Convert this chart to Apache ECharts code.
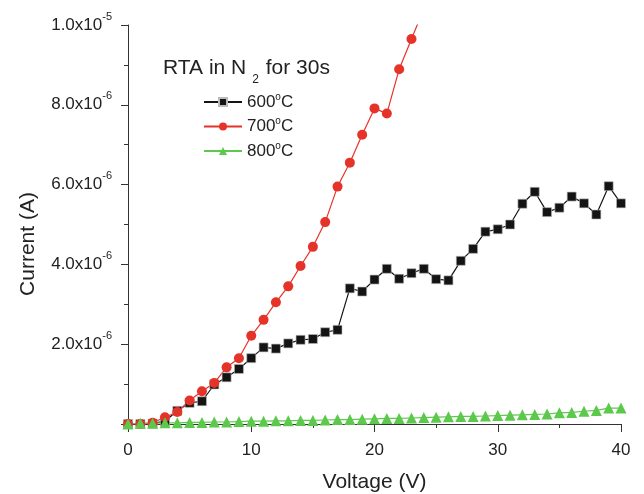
<!DOCTYPE html>
<html>
<head>
<meta charset="utf-8">
<script src="https://cdn.jsdelivr.net/npm/echarts@6/dist/echarts.min.js"></script>
<style>
  html, body { margin: 0; padding: 0; background: #fff; }
  #chart { width: 644px; height: 494px; }
</style>
</head>
<body>
<div id="chart"></div>
<script>
// Bias voltage steps (V)
const voltage = [0, 1, 2, 3, 4, 5, 6, 7, 8, 9, 10, 11, 12, 13, 14, 15, 16, 17, 18, 19, 20,
                 21, 22, 23, 24, 25, 26, 27, 28, 29, 30, 31, 32, 33, 34, 35, 36, 37, 38, 39, 40];

// Measured current, in microamps, for each anneal temperature
const current600 = [0.00, 0.00, 0.01, 0.07, 0.33, 0.53, 0.57, 0.99, 1.17, 1.38, 1.65,
                    1.92, 1.89, 2.02, 2.11, 2.13, 2.30, 2.36, 3.40, 3.32, 3.62,
                    3.89, 3.64, 3.78, 3.89, 3.63, 3.60, 4.09, 4.39, 4.82, 4.88,
                    5.00, 5.52, 5.82, 5.31, 5.42, 5.70, 5.53, 5.25, 5.96, 5.53];
const current700 = [0.00, 0.00, 0.03, 0.17, 0.30, 0.59, 0.82, 1.03, 1.42, 1.65, 2.21,
                    2.61, 3.05, 3.45, 3.96, 4.44, 5.06, 5.95, 6.55, 7.25, 7.91,
                    7.78, 8.89, 9.65, 10.40];
const current800 = [0.00, 0.02, 0.02, 0.03, 0.03, 0.04, 0.04, 0.05, 0.05, 0.06, 0.07,
                    0.07, 0.08, 0.08, 0.09, 0.09, 0.10, 0.11, 0.11, 0.12, 0.13,
                    0.14, 0.14, 0.15, 0.16, 0.17, 0.18, 0.19, 0.19, 0.20, 0.21,
                    0.22, 0.23, 0.24, 0.25, 0.28, 0.29, 0.32, 0.34, 0.40, 0.40];

const temperatures = ['600', '700', '800'];
const legendTitle = 'RTA in N';
const legendTitleSub = '2';
const legendTitleTail = ' for 30s';
const xTitle = 'Voltage (V)';
const yTitle = 'Current (A)';

const MICRO = 1e-6;
const FONT = "'Liberation Sans', Arial, Helvetica, sans-serif";
const TEXT = '#222';

function pairs(values) {
  return values.map((v, i) => [voltage[i], v * MICRO]);
}

// "2.0x10^-6" style tick labels
function sciLabel(v) {
  if (v <= 0) return '';
  const exp = Math.floor(Math.log10(v) + 1e-9);
  const mant = (v / Math.pow(10, exp)).toFixed(1);
  return '{m|' + mant + 'x10}{e|' + exp + '}';
}

const chart = echarts.init(document.getElementById('chart'), null, { renderer: 'canvas' });

const seriesStyle = [
  { symbol: 'rect', size: 9, color: '#141414', border: '#bbbbbb' },
  { symbol: 'circle', size: 10, color: '#e5332a', border: null },
  { symbol: 'triangle', size: 11, color: '#5cc84c', border: null }
];
const seriesData = [current600, current700, current800];

const option = {
  animation: false,
  backgroundColor: '#fff',
  textStyle: { fontFamily: FONT, color: TEXT },
  grid: { left: 128, right: 23, top: 25, bottom: 70, containLabel: false, outerBoundsMode: 'none' },
  xAxis: {
    type: 'value',
    min: 0, max: 40, interval: 10,
    name: xTitle,
    nameLocation: 'middle',
    nameGap: 48,
    nameTextStyle: { fontFamily: FONT, fontSize: 21, color: TEXT },
    axisLine: { show: true, onZero: false, lineStyle: { color: '#333', width: 1 } },
    axisTick: { show: true, inside: false, length: 8, lineStyle: { color: '#333' } },
    minorTick: { show: true, splitNumber: 2, length: 4, lineStyle: { color: '#333' } },
    axisLabel: { margin: 18, fontFamily: FONT, fontSize: 17, color: TEXT },
    splitLine: { show: false }
  },
  yAxis: {
    type: 'value',
    min: 0, max: 1e-5, interval: 2e-6,
    axisLine: { show: true, onZero: false, lineStyle: { color: '#333', width: 1 } },
    axisTick: { show: true, inside: false, length: 7, lineStyle: { color: '#333' } },
    minorTick: { show: true, splitNumber: 2, length: 4, lineStyle: { color: '#333' } },
    axisLabel: {
      margin: 16,
      formatter: sciLabel,
      rich: {
        m: { fontFamily: FONT, fontSize: 17, color: TEXT, lineHeight: 28, verticalAlign: 'middle' },
        e: { fontFamily: FONT, fontSize: 11, color: TEXT, lineHeight: 12, verticalAlign: 'top' }
      }
    },
    splitLine: { show: false }
  },
  legend: {
    orient: 'vertical',
    left: 203,
    top: 92,
    padding: 0,
    itemWidth: 38,
    itemHeight: 10,
    itemGap: 6,
    data: temperatures.map(t => t + '°C'),
    formatter: name => '{a|' + name.replace('°C', '') + '}{s|o}{a|C}',
    textStyle: {
      rich: {
        a: { fontFamily: FONT, fontSize: 17, color: TEXT, lineHeight: 20, verticalAlign: 'middle' },
        s: { fontFamily: FONT, fontSize: 10, color: TEXT, lineHeight: 10, verticalAlign: 'top' }
      }
    }
  },
  graphic: [
    {
      type: 'text',
      left: 163,
      top: 58,
      style: {
        text: '{a|' + legendTitle + '}{b|' + legendTitleSub + '}{a|' + legendTitleTail + '}',
        rich: {
          a: { fontFamily: FONT, fontSize: 21, fill: TEXT, lineHeight: 34, verticalAlign: 'middle' },
          b: { fontFamily: FONT, fontSize: 12, fill: TEXT, lineHeight: 12, verticalAlign: 'bottom', padding: [0, 1, 0, 6] }
        }
      }
    },
    {
      type: 'text',
      x: 28,
      y: 244,
      rotation: Math.PI / 2,
      style: {
        text: yTitle,
        fontFamily: FONT,
        fontSize: 21,
        fill: TEXT,
        align: 'center',
        verticalAlign: 'middle'
      }
    }
  ],
  series: seriesData.map((vals, i) => ({
    name: temperatures[i] + '°C',
    type: 'line',
    data: pairs(vals),
    symbol: seriesStyle[i].symbol,
    symbolSize: seriesStyle[i].size,
    showAllSymbol: true,
    clip: true,
    lineStyle: { color: seriesStyle[i].color, width: 1.2 },
    itemStyle: seriesStyle[i].border
      ? { color: seriesStyle[i].color, borderColor: seriesStyle[i].border, borderWidth: 0.6 }
      : { color: seriesStyle[i].color },
    emphasis: { disabled: true }
  }))
};

chart.setOption(option);
</script>
</body>
</html>
